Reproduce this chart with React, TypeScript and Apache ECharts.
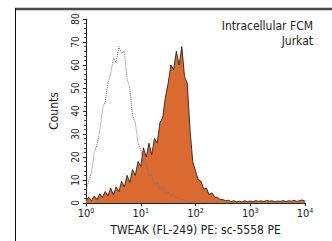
import React, { useEffect, useRef } from "react";
import * as echarts from "echarts";

// Histogram bins in log10 units of fluorescence, 0.05 decade wide, from 10^0 to 10^4
const binStart = 0;
const binWidth = 0.05;

// Stained sample (orange filled), counts per bin
const stainedCounts = [
  1, 2.5, 1, 3, 1.5, 4, 2.5, 5, 3, 6.5,
  3.5, 7, 5, 9.5, 7, 12, 9, 14.5, 12, 18,
  16, 24, 20, 26, 21, 28, 26, 35, 37, 46,
  52, 60, 58, 66, 60, 68, 55, 52, 32, 18,
  14, 10, 9.5, 6, 6.5, 3.5, 4.5, 2.5, 2.5, 1.5,
  1.5, 1, 1.2, 0.6, 1, 0.5, 0.8, 0.4, 1, 0.6,
  0.9, 0.5, 1.1, 0.7, 1, 0.6, 1.2, 0.8, 1, 0.5,
  0.9, 0.7, 1.1, 0.6, 1, 0.8, 1.2, 0.7, 1, 1.3, 0.8,
];

// Control (dotted outline), counts per bin
const controlCounts = [
  5, 10, 13, 22, 25, 31, 41, 44, 52, 56,
  63, 61, 68, 65, 66, 54, 50, 38, 35, 26,
  23, 18, 17, 12, 12, 8, 9, 6, 7, 4,
  5, 3, 4, 2, 2.5, 1.5, 1, 1.2, 0.5, 0.5,
  0.5, 0.3, 0.3, 0.2, 0.2, 0.1, 0.1, 0, 0, 0,
  0, 0, 0, 0, 0, 0, 0, 0, 0, 0,
  0, 0, 0, 0, 0, 0, 0, 0, 0, 0,
  0, 0, 0, 0, 0, 0, 0, 0, 0, 0, 0,
];

const yTicks = [0, 10, 20, 30, 40, 50, 60, 70, 80];
const xDecades = [0, 1, 2, 3, 4];

const titleLines = ["Intracellular FCM", "Jurkat"];
const xAxisName = "TWEAK (FL-249) PE: sc-5558 PE";
const yAxisName = "Counts";

const FONT = "'Liberation Sans Narrow', 'DejaVu Sans Condensed', 'Roboto', sans-serif";

const toPairs = (arr: number[]) => arr.map((v, i) => [binStart + i * binWidth, v]);

export default function App() {
  const ref = useRef<HTMLDivElement>(null);
  useEffect(() => {
    if (!ref.current) return;
    const chart = echarts.init(ref.current, undefined, { renderer: "svg" });
    chart.setOption({
      animation: false,
      backgroundColor: "#ffffff",
      textStyle: { fontFamily: FONT },
      grid: { left: 86, right: 27, top: 19, bottom: 33 },
      xAxis: {
        type: "value",
        min: xDecades[0],
        max: xDecades[xDecades.length - 1],
        interval: 1,
        name: xAxisName,
        nameLocation: "middle",
        nameGap: 21,
        nameTextStyle: { fontSize: 12, color: "#222", fontFamily: FONT },
        axisLine: { show: true, lineStyle: { color: "#222", width: 1 } },
        axisTick: { show: true, length: 3, lineStyle: { color: "#222" } },
        splitLine: { show: false },
        axisLabel: {
          margin: 4,
          color: "#222",
          formatter: (v: number) => `{b|10}{s|${v}}`,
          rich: {
            b: { fontSize: 11, fontFamily: FONT, color: "#222" },
            s: { fontSize: 7, fontFamily: FONT, color: "#222", padding: [0, 0, 6, 0] },
          },
        },
      },
      yAxis: {
        type: "value",
        min: yTicks[0],
        max: yTicks[yTicks.length - 1],
        interval: 10,
        name: yAxisName,
        nameLocation: "middle",
        nameGap: 26,
        nameTextStyle: { fontSize: 12, color: "#222", fontFamily: FONT },
        axisLine: { show: true, lineStyle: { color: "#222", width: 1 } },
        axisTick: { show: true, length: 3, lineStyle: { color: "#222" } },
        minorTick: { show: true, splitNumber: 5, length: 2, lineStyle: { color: "#444" } },
        splitLine: { show: false },
        axisLabel: { rotate: 90, margin: 6, fontSize: 10, color: "#222", fontFamily: FONT },
      },
      graphic: [
        { type: "line", shape: { x1: 15, y1: 9, x2: 332, y2: 9 }, style: { stroke: "#4a4a4a", lineWidth: 2.5 } },
        { type: "line", shape: { x1: 15.5, y1: 8, x2: 15.5, y2: 241 }, style: { stroke: "#111", lineWidth: 1 } },
        {
          type: "text",
          x: 313,
          y: 20,
          style: { text: titleLines[0], fontSize: 12, align: "right", verticalAlign: "top", fill: "#222", fontFamily: FONT },
        },
        {
          type: "text",
          x: 313,
          y: 35,
          style: { text: titleLines[1], fontSize: 12, align: "right", verticalAlign: "top", fill: "#222", fontFamily: FONT },
        },
      ],
      series: [
        {
          type: "line",
          data: toPairs(stainedCounts),
          symbol: "none",
          lineStyle: { color: "#111", width: 0.8 },
          areaStyle: { color: "#DA6A30", opacity: 1 },
          z: 2,
        },
        {
          type: "line",
          data: toPairs(controlCounts),
          symbol: "none",
          lineStyle: { color: "#777", width: 1, type: "dotted" },
          z: 3,
        },
      ],
    });
    return () => chart.dispose();
  }, []);
  return <div ref={ref} style={{ width: 332, height: 241, position: "absolute", left: 0, top: 0 }} />;
}
